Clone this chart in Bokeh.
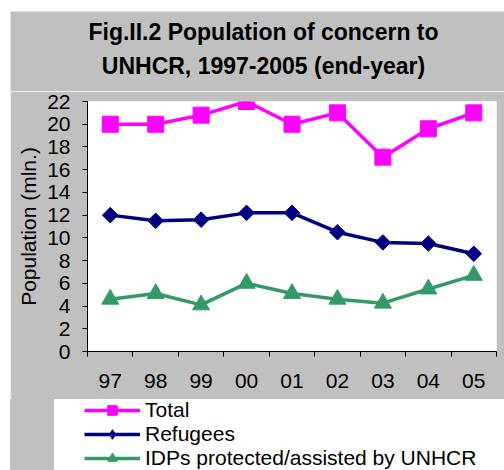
from bokeh.plotting import figure
from bokeh.models import FixedTicker, Range1d, Legend, LegendItem, Label, Spacer
from bokeh.layouts import row, column
from bokeh.embed import file_html
from bokeh.resources import INLINE

years = ["97", "98", "99", "00", "01", "02", "03", "04", "05"]
total = [20.0, 20.0, 20.8, 22.0, 20.0, 21.0, 17.1, 19.6, 21.0]
refugees = [12.0, 11.5, 11.6, 12.2, 12.2, 10.5, 9.6, 9.5, 8.6]
idps = [4.6, 5.1, 4.1, 6.0, 5.1, 4.6, 4.25, 5.5, 6.7]
y_ticks = [0, 2, 4, 6, 8, 10, 12, 14, 16, 18, 20, 22]
title_lines = ["Fig.II.2 Population of concern to", "UNHCR, 1997-2005 (end-year)"]
y_label = "Population (mln.)"
series_names = ["Total", "Refugees", "IDPs protected/assisted by UNHCR"]

FONT = "Liberation Sans"
GRAY = "#C0C0C0"
colors = ["#FF00FF", "#000080", "#339966"]
plot_markers = [dict(marker="square", size=16, angle=0.0),
                dict(marker="square", size=11, angle=0.785398),
                dict(marker="triangle", size=17, angle=0.0)]
legend_markers = ["square", "diamond", "triangle"]
series = [total, refugees, idps]

xs = [i + 0.5 for i in range(len(years))]


def bare(fig, fill):
    fig.border_fill_color = fill
    fig.background_fill_color = fill
    fig.outline_line_color = None
    fig.grid.visible = False


# ---------------- title strip ----------------
p0 = figure(width=494, height=80, output_backend="svg", toolbar_location=None, title=None,
            x_axis_location=None, y_axis_location=None,
            x_range=Range1d(0, 494), y_range=Range1d(80, 0),
            min_border_left=0, min_border_right=0, min_border_top=0, min_border_bottom=0)
bare(p0, GRAY)
for txt, yy in zip(title_lines, [20, 54]):
    p0.add_layout(Label(x=253, y=yy, text=txt, text_align="center", text_baseline="alphabetic",
                        text_font=FONT, text_font_size="23px", text_font_style="bold",
                        text_color="black"))

# ---------------- main chart ----------------
p = figure(width=494, height=308, output_backend="svg", toolbar_location=None, title=None,
           x_range=Range1d(0, len(years)), y_range=Range1d(0, 22),
           min_border_left=77, min_border_right=8, min_border_top=10, min_border_bottom=48)
p.border_fill_color = GRAY
p.background_fill_color = "white"
p.outline_line_color = None
p.grid.visible = False

p.yaxis.ticker = FixedTicker(ticks=y_ticks)
p.yaxis.major_tick_out = 5
p.yaxis.major_tick_in = 0
p.yaxis.minor_tick_out = 0
p.yaxis.minor_tick_in = 0
p.yaxis.major_label_text_font = FONT
p.yaxis.major_label_text_font_size = "21px"
p.yaxis.major_label_text_color = "black"
p.yaxis.major_label_standoff = 12
p.yaxis.axis_label = y_label
p.yaxis.axis_label_text_font = FONT
p.yaxis.axis_label_text_font_size = "21px"
p.yaxis.axis_label_text_font_style = "normal"
p.yaxis.axis_label_text_color = "black"
p.yaxis.axis_label_standoff = 4
p.yaxis.axis_line_color = "black"

p.xaxis.ticker = FixedTicker(ticks=xs, minor_ticks=list(range(len(years) + 1)))
p.xaxis.major_label_overrides = {x: y for x, y in zip(xs, years)}
p.xaxis.major_tick_out = 0
p.xaxis.major_tick_in = 0
p.xaxis.minor_tick_out = 5
p.xaxis.minor_tick_in = 0
p.xaxis.major_label_text_font = FONT
p.xaxis.major_label_text_font_size = "21px"
p.xaxis.major_label_text_color = "black"
p.xaxis.major_label_standoff = 17
p.xaxis.axis_line_color = "black"

for vals, col, mk in zip(series, colors, plot_markers):
    p.line(xs, vals, line_color=col, line_width=3.5)
    p.scatter(xs, vals, fill_color=col, line_color=col, **mk)

# ---------------- legend strip ----------------
p2 = figure(width=450, height=71, output_backend="svg", toolbar_location=None, title=None,
            x_axis_location=None, y_axis_location=None,
            x_range=Range1d(0, len(years)), y_range=Range1d(0, 22),
            min_border_left=0, min_border_right=0, min_border_top=0, min_border_bottom=0)
bare(p2, "white")

items = []
for name, vals, col, mk in zip(series_names, series, colors, legend_markers):
    lr = p2.line(xs, vals, line_color=col, line_width=3.5, visible=False)
    sr = p2.scatter(xs, vals, marker=mk, fill_color=col, line_color=col, visible=False)
    items.append(LegendItem(label=name, renderers=[lr, sr]))

legend = Legend(items=items, location=(30, 0), padding=0, margin=0, spacing=0,
                glyph_width=56, glyph_height=24, label_standoff=5,
                label_text_font=FONT, label_text_font_size="21px", label_text_color="black",
                background_fill_alpha=0, border_line_alpha=0, inactive_fill_alpha=0)
p2.add_layout(legend, "center")

gray_block = Spacer(width=44, height=71, styles={"background-color": GRAY})

layout = row(Spacer(width=10),
             column(Spacer(height=11), row(p0), p, row(gray_block, p2)))
open("out.html", "w").write(file_html(layout, INLINE))
